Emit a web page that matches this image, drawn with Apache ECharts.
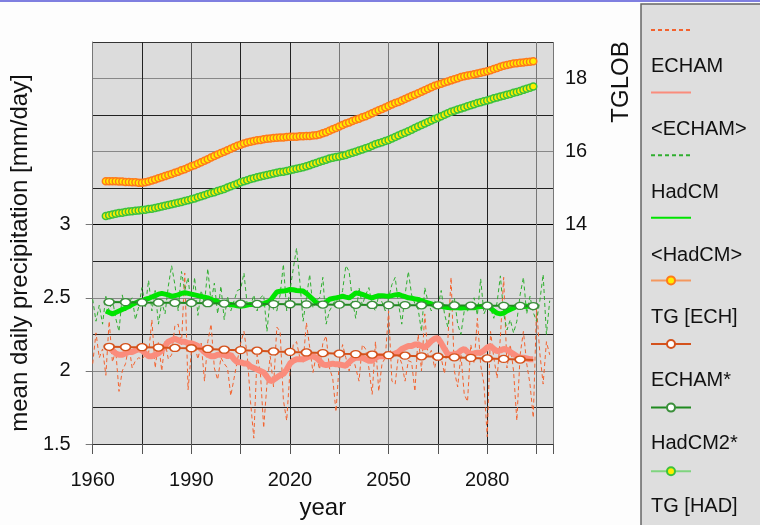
<!DOCTYPE html>
<html><head><meta charset="utf-8">
<script src="https://cdn.jsdelivr.net/npm/echarts@6/dist/echarts.min.js"></script>
<style>html,body{margin:0;padding:0;background:#fdfdfd}#c{width:760px;height:525px}</style>
</head><body><div id="c"></div>
<script>
// ---------- data ----------
const annualStart = 1960;   // ECHAM / HadCM annual values 1960..2099
const echamAnnual = [
  2.05, 2.26, 2.09, 2.15, 1.97, 2.34, 2.06, 2.14, 1.86, 2.00,
  2.05, 2.18, 2.02, 2.07, 2.09, 2.08, 2.11, 2.12, 2.35, 2.02,
  2.20, 2.00, 2.20, 2.08, 2.11, 2.31, 2.32, 2.18, 2.67, 1.87,
  2.13, 2.18, 2.08, 2.19, 1.93, 2.20, 2.32, 2.02, 1.94, 2.09,
  2.05, 2.02, 1.83, 1.95, 2.07, 2.19, 2.27, 2.11, 1.79, 1.54,
  2.11, 1.99, 1.61, 1.91, 2.10, 1.89, 2.30, 2.27, 1.80, 1.66,
  2.00, 2.18, 2.20, 2.09, 2.06, 2.33, 2.16, 1.99, 2.11, 2.01,
  2.19, 2.24, 2.02, 1.95, 1.72, 2.06, 2.18, 2.09, 2.00, 2.11,
  2.02, 1.93, 2.18, 2.15, 2.02, 1.84, 2.20, 1.86, 2.05, 2.09,
  2.41, 1.93, 1.91, 2.11, 2.05, 1.93, 2.07, 2.06, 1.86, 2.25,
  2.00, 2.39, 2.10, 2.14, 2.02, 2.11, 2.09, 1.98, 2.20, 2.64,
  2.00, 1.89, 2.11, 1.84, 1.79, 2.18, 2.05, 2.36, 2.04, 1.91,
  1.55, 2.27, 2.09, 1.95, 2.23, 2.64, 2.02, 2.18, 2.00, 1.66,
  2.11, 2.27, 2.05, 1.91, 1.68, 2.43, 2.12, 1.91, 2.20, 2.11
];
const hadcmAnnual = [
  2.49, 2.34, 2.45, 2.32, 2.51, 2.41, 2.49, 2.36, 2.27, 2.52,
  2.41, 2.47, 2.50, 2.35, 2.44, 2.57, 2.44, 2.62, 2.41, 2.55,
  2.32, 2.47, 2.39, 2.58, 2.72, 2.59, 2.41, 2.68, 2.55, 2.64,
  2.43, 2.64, 2.38, 2.55, 2.46, 2.70, 2.47, 2.60, 2.39, 2.58,
  2.35, 2.51, 2.41, 2.48, 2.55, 2.56, 2.67, 2.45, 2.44, 2.52,
  2.41, 2.50, 2.52, 2.27, 2.50, 2.42, 2.41, 2.52, 2.73, 2.41,
  2.55, 2.70, 2.84, 2.61, 2.34, 2.50, 2.66, 2.43, 2.48, 2.50,
  2.64, 2.32, 2.41, 2.45, 2.50, 2.43, 2.55, 2.72, 2.68, 2.48,
  2.36, 2.57, 2.45, 2.52, 2.57, 2.45, 2.41, 2.52, 2.47, 2.41,
  2.50, 2.59, 2.64, 2.46, 2.32, 2.52, 2.68, 2.52, 2.46, 2.42,
  2.27, 2.57, 2.47, 2.41, 2.48, 2.44, 2.55, 2.39, 2.30, 2.46,
  2.50, 2.32, 2.25, 2.41, 2.41, 2.45, 2.50, 2.38, 2.63, 2.39,
  2.44, 2.43, 2.36, 2.47, 2.65, 2.39, 2.28, 2.35, 2.26, 2.34,
  2.52, 2.64, 2.39, 2.51, 2.40, 2.34, 2.48, 2.66, 2.25, 2.48
];
const meanStart = 1964;     // running means 1964..2094
const echamMean = [
  2.17, 2.16, 2.14, 2.12, 2.11, 2.11, 2.12, 2.13, 2.13, 2.14,
  2.15, 2.14, 2.12, 2.10, 2.10, 2.11, 2.12, 2.14, 2.17, 2.20,
  2.21, 2.22, 2.21, 2.20, 2.20, 2.19, 2.19, 2.18, 2.17, 2.15,
  2.13, 2.11, 2.10, 2.10, 2.11, 2.11, 2.11, 2.10, 2.11, 2.08,
  2.06, 2.06, 2.05, 2.05, 2.03, 2.02, 2.01, 2.00, 1.99, 1.96,
  1.93, 1.94, 1.955, 1.97, 1.98, 2.01, 2.05, 2.07, 2.08, 2.08,
  2.08, 2.09, 2.10, 2.10, 2.09, 2.07, 2.045, 2.04, 2.045, 2.05,
  2.045, 2.045, 2.04, 2.035, 2.06, 2.08, 2.09, 2.09, 2.09, 2.08,
  2.07, 2.07, 2.09, 2.10, 2.10, 2.10, 2.10, 2.11, 2.12, 2.13,
  2.15, 2.16, 2.17, 2.17, 2.18, 2.18, 2.17, 2.16, 2.18, 2.205,
  2.22, 2.225, 2.19, 2.15, 2.115, 2.11, 2.115, 2.12, 2.14, 2.15,
  2.13, 2.115, 2.12, 2.125, 2.125, 2.14, 2.16, 2.17, 2.15, 2.135,
  2.14, 2.15, 2.145, 2.13, 2.115, 2.10, 2.09, 2.09, 2.085, 2.08,
  2.08
];
const hadcmMean = [
  2.41, 2.40, 2.39, 2.40, 2.41, 2.42, 2.43, 2.44, 2.455, 2.465,
  2.475, 2.48, 2.49, 2.495, 2.505, 2.515, 2.525, 2.53, 2.525, 2.52,
  2.51, 2.515, 2.52, 2.53, 2.535, 2.53, 2.525, 2.52, 2.515, 2.51,
  2.505, 2.50, 2.49, 2.48, 2.475, 2.465, 2.46, 2.455, 2.455, 2.45,
  2.445, 2.443, 2.445, 2.45, 2.455, 2.455, 2.458, 2.46, 2.46, 2.47,
  2.48, 2.51, 2.54, 2.545, 2.546, 2.55, 2.557, 2.555, 2.55, 2.548,
  2.546, 2.53, 2.51, 2.49, 2.466, 2.46, 2.455, 2.47, 2.49, 2.495,
  2.50, 2.505, 2.511, 2.505, 2.50, 2.515, 2.534, 2.53, 2.523, 2.515,
  2.505, 2.50, 2.508, 2.515, 2.515, 2.512, 2.511, 2.515, 2.52, 2.523,
  2.515, 2.508, 2.50, 2.497, 2.493, 2.489, 2.48, 2.473, 2.466, 2.458,
  2.45, 2.445, 2.442, 2.437, 2.433, 2.432, 2.432, 2.432, 2.43, 2.432,
  2.432, 2.432, 2.432, 2.437, 2.44, 2.443, 2.44, 2.43, 2.41, 2.395,
  2.39, 2.395, 2.41, 2.42, 2.43, 2.443, 2.443, 2.44, 2.443, 2.443,
  2.443
];
const tgStart = 1964;       // global temperature 1964..2094 (right axis)
const tgEch = [
  15.19, 15.19, 15.19, 15.19, 15.18, 15.18, 15.17, 15.17, 15.16, 15.16,
  15.15, 15.15, 15.16, 15.18, 15.21, 15.24, 15.27, 15.30, 15.33, 15.36,
  15.39, 15.42, 15.45, 15.49, 15.52, 15.56, 15.60, 15.63, 15.67, 15.71,
  15.75, 15.79, 15.84, 15.88, 15.92, 15.96, 16.00, 16.04, 16.08, 16.12,
  16.16, 16.19, 16.22, 16.25, 16.27, 16.29, 16.31, 16.32, 16.34, 16.35,
  16.36, 16.37, 16.38, 16.39, 16.39, 16.40, 16.41, 16.41, 16.41, 16.42,
  16.42, 16.43, 16.43, 16.44, 16.45, 16.47, 16.50, 16.53, 16.57, 16.61,
  16.65, 16.69, 16.73, 16.77, 16.80, 16.84, 16.87, 16.90, 16.94, 16.97,
  17.01, 17.05, 17.09, 17.13, 17.17, 17.21, 17.25, 17.29, 17.33, 17.36,
  17.40, 17.44, 17.48, 17.52, 17.56, 17.60, 17.64, 17.68, 17.72, 17.76,
  17.80, 17.83, 17.86, 17.89, 17.92, 17.95, 17.98, 18.01, 18.04, 18.06,
  18.08, 18.10, 18.12, 18.14, 18.16, 18.18, 18.20, 18.23, 18.26, 18.29,
  18.32, 18.35, 18.37, 18.39, 18.41, 18.42, 18.43, 18.44, 18.45, 18.46,
  18.47
];
const tgHad = [
  14.24, 14.26, 14.28, 14.30, 14.32, 14.33, 14.35, 14.36, 14.37, 14.38,
  14.39, 14.40, 14.41, 14.43, 14.44, 14.46, 14.48, 14.50, 14.52, 14.54,
  14.56, 14.58, 14.60, 14.62, 14.65, 14.67, 14.70, 14.72, 14.75, 14.78,
  14.81, 14.84, 14.87, 14.89, 14.92, 14.95, 14.98, 15.02, 15.05, 15.09,
  15.12, 15.16, 15.19, 15.22, 15.25, 15.27, 15.30, 15.32, 15.34, 15.36,
  15.38, 15.40, 15.42, 15.44, 15.45, 15.47, 15.49, 15.51, 15.53, 15.55,
  15.57, 15.60, 15.63, 15.66, 15.69, 15.72, 15.75, 15.78, 15.81, 15.83,
  15.85, 15.87, 15.89, 15.91, 15.94, 15.97, 16.00, 16.03, 16.06, 16.09,
  16.12, 16.16, 16.20, 16.23, 16.26, 16.29, 16.32, 16.36, 16.40, 16.44,
  16.48, 16.52, 16.56, 16.60, 16.65, 16.69, 16.73, 16.77, 16.81, 16.85,
  16.89, 16.93, 16.97, 17.01, 17.05, 17.09, 17.12, 17.15, 17.18, 17.21,
  17.24, 17.27, 17.30, 17.33, 17.35, 17.38, 17.40, 17.43, 17.46, 17.48,
  17.51, 17.53, 17.56, 17.58, 17.61, 17.63, 17.66, 17.69, 17.72, 17.75,
  17.78
];
const starYears = [1965, 1970, 1975, 1980, 1985, 1990, 1995, 2000, 2005, 2010,
  2015, 2020, 2025, 2030, 2035, 2040, 2045, 2050, 2055, 2060,
  2065, 2070, 2075, 2080, 2085, 2090, 2094];
const echamStar = [2.165, 2.163, 2.162, 2.160, 2.157, 2.155, 2.150, 2.145, 2.142, 2.138,
  2.133, 2.130, 2.126, 2.122, 2.118, 2.115, 2.112, 2.108, 2.104, 2.100,
  2.097, 2.093, 2.089, 2.085, 2.082, 2.078, 2.074];
const hadcmStar = [2.471, 2.470, 2.468, 2.467, 2.466, 2.465, 2.463, 2.461, 2.460, 2.458,
  2.457, 2.456, 2.455, 2.454, 2.453, 2.452, 2.451, 2.450, 2.450, 2.449,
  2.449, 2.448, 2.447, 2.446, 2.445, 2.445, 2.444];

const xTickLabels = [1960, 1990, 2020, 2050, 2080];
const leftTickLabels = [1.5, 2, 2.5, 3];
const rightTickLabels = [14, 16, 18];
const legendNames = ['ECHAM', '<ECHAM>', 'HadCM', '<HadCM>', 'TG [ECH]', 'ECHAM*', 'HadCM2*', 'TG [HAD]'];

// ---------- chart ----------
function seq(start, arr) { return arr.map((v, i) => [start + i, v]); }
function pairs(xs, ys) { return ys.map((v, i) => [xs[i], v]); }

const FONT = '"Liberation Sans", Arial, sans-serif';
const chart = echarts.init(document.getElementById('c'), null, {renderer: 'canvas'});

const lineOnly = ['ECHAM', '<ECHAM>', 'HadCM', '<HadCM>'];

const option = {
  animation: false,
  backgroundColor: '#fdfdfd',
  textStyle: {fontFamily: FONT},
  grid: {left: 92, right: 207, top: 42, bottom: 80, show: true, backgroundColor: '#dcdcdc', borderWidth: 0},
  graphic: [
    {type: 'rect', z: 0, shape: {x: 641, y: 4, width: 121, height: 523}, style: {fill: '#dedede', stroke: '#666', lineWidth: 1.5}},
    {type: 'rect', z: 0, shape: {x: 0, y: 0, width: 760, height: 2}, style: {fill: '#7f7fe0'}},
    {type: 'text', z: 5, x: 621, y: 82, rotation: Math.PI / 2,
     style: {text: 'TGLOB', font: '24px ' + FONT, fill: '#111', align: 'center', verticalAlign: 'middle'}}
  ],
  legend: [
    {
      left: 650, top: 25, orient: 'vertical', padding: 0, itemWidth: 40, itemHeight: 10, itemGap: 53.6,
      selectedMode: false, formatter: () => '', textStyle: {fontSize: 10},
      data: legendNames.map(n => lineOnly.includes(n) ? {name: n, itemStyle: {opacity: 0}} : {name: n})
    },
    {
      left: 646, top: 56.7, orient: 'vertical', padding: 0, icon: 'none', itemWidth: 0, itemHeight: 20, itemGap: 42.8,
      selectedMode: false, textStyle: {fontSize: 20, lineHeight: 20, color: '#111', fontFamily: FONT},
      data: legendNames
    }
  ],
  xAxis: {
    type: 'value', min: 1960, max: 2100, interval: 15,
    axisLine: {show: true, lineStyle: {color: '#333'}},
    axisTick: {show: true, length: 10, lineStyle: {color: '#555'}},
    axisLabel: {margin: 26, fontSize: 20, color: '#111',
      formatter: v => xTickLabels.includes(v) ? String(v) : ''},
    splitLine: {show: true, lineStyle: {width: 1,
      color: ['#777', '#222', '#555', '#222', '#222', '#777', '#777', '#222', '#222', '#777', '#777']}},
    name: 'year', nameLocation: 'middle', nameGap: 52,
    nameTextStyle: {fontSize: 24, color: '#111'}
  },
  yAxis: [
    {
      type: 'value', min: 1.5, max: 4.25, interval: 0.25, position: 'left',
      axisLine: {show: true, lineStyle: {color: '#777'}},
      axisTick: {show: true, length: 7, customValues: leftTickLabels, lineStyle: {color: '#777'}},
      axisLabel: {customValues: leftTickLabels, margin: 22, fontSize: 20, color: '#111'},
      splitLine: {show: false},
      name: 'mean daily precipitation [mm/day]', nameLocation: 'middle', nameGap: 54, nameRotate: 90,
      nameTextStyle: {fontSize: 24, color: '#111', padding: [0, 20, 0, 0]}
    },
    {
      type: 'value', min: 8, max: 19, interval: 1, position: 'right',
      axisLine: {show: false}, axisTick: {show: false},
      axisLabel: {margin: 12, fontSize: 20, color: '#111',
        formatter: v => rightTickLabels.includes(v) ? String(v) : ''},
      splitLine: {show: true, lineStyle: {width: 1,
        color: ['#222', '#222', '#888', '#222', '#888', '#222', '#000', '#222', '#888', '#222', '#888', '#333']}}
    }
  ],
  series: [
    {name: 'ECHAM', type: 'line', yAxisIndex: 0, z: 2, symbol: 'none',
     data: seq(annualStart, echamAnnual),
     lineStyle: {type: [4, 3], width: 1, color: '#f3622e'}, itemStyle: {color: '#f3622e'}},
    {name: 'HadCM', type: 'line', yAxisIndex: 0, z: 2, symbol: 'none',
     data: seq(annualStart, hadcmAnnual),
     lineStyle: {type: [4, 3], width: 1, color: '#2fae2f'}, itemStyle: {color: '#2fae2f'}},
    {name: '<ECHAM>', type: 'line', yAxisIndex: 0, z: 3, symbol: 'none',
     data: seq(meanStart, echamMean),
     lineStyle: {width: 6, color: '#fa8c7c'}, itemStyle: {color: '#fa8c7c'}},
    {name: '<HadCM>', type: 'line', yAxisIndex: 0, z: 3, symbol: 'none',
     data: seq(meanStart, hadcmMean),
     lineStyle: {width: 5, color: '#00e400'}, itemStyle: {color: '#00e400'}},
    {name: 'TG [ECH]', type: 'line', yAxisIndex: 1, z: 4, symbol: 'circle', symbolSize: 7, showAllSymbol: true,
     data: seq(tgStart, tgEch),
     lineStyle: {width: 1.5, color: '#f4975e'},
     itemStyle: {color: '#ffee00', borderColor: '#ff7a1a', borderWidth: 1.5}},
    {name: 'TG [HAD]', type: 'line', yAxisIndex: 1, z: 4, symbol: 'circle', symbolSize: 7, showAllSymbol: true,
     data: seq(tgStart, tgHad),
     lineStyle: {width: 1.5, color: '#7fd47f'},
     itemStyle: {color: '#ffee00', borderColor: '#3cc23c', borderWidth: 1.5}},
    {name: 'ECHAM*', type: 'line', yAxisIndex: 0, z: 5, symbol: 'circle', symbolSize: [10, 7], showAllSymbol: true,
     data: pairs(starYears, echamStar).map((p, i, a) => i === a.length - 1 ? {value: p, symbol: 'none'} : p),
     lineStyle: {width: 2, color: '#d4521c'},
     itemStyle: {color: '#ffffff', borderColor: '#d4521c', borderWidth: 1.5}},
    {name: 'HadCM2*', type: 'line', yAxisIndex: 0, z: 5, symbol: 'circle', symbolSize: [10, 7], showAllSymbol: true,
     data: pairs(starYears, hadcmStar),
     lineStyle: {width: 2, color: '#1f8a1f'},
     itemStyle: {color: '#ffffff', borderColor: '#3b8f3b', borderWidth: 1.5}}
  ]
};
chart.setOption(option);
</script>
</body></html>
